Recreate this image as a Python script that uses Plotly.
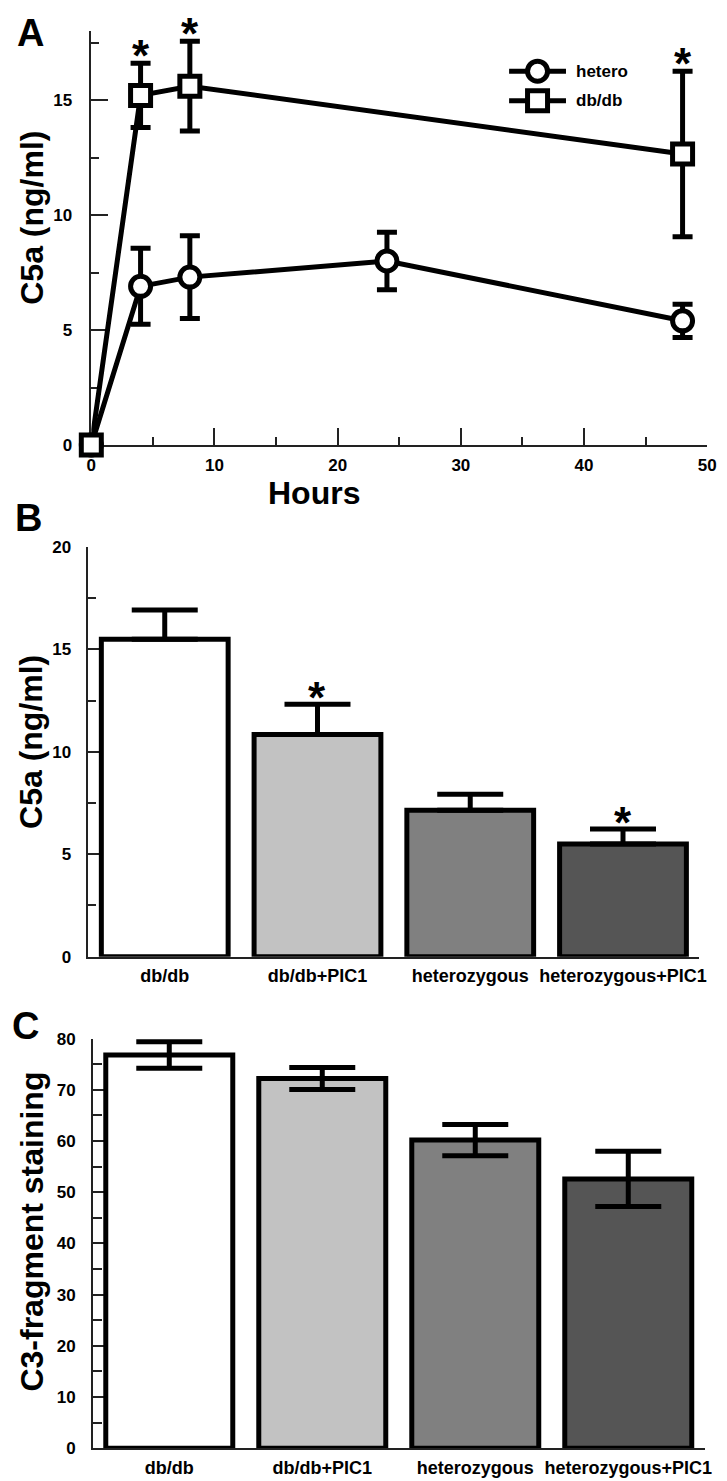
import plotly.graph_objects as go

# ---------------- data ----------------
# Panel A: C5a time course
hours_hetero = [0, 4, 8, 24, 48]
c5a_hetero = [0, 6.9, 7.3, 8.0, 5.4]
err_hetero = [None, 1.65, 1.8, 1.25, 0.72]

hours_dbdb = [0, 4, 8, 48]
c5a_dbdb = [0, 15.2, 15.6, 12.65]
err_dbdb = [None, 1.4, 1.95, 3.6]
sig_dbdb = [False, True, True, True]

# Panel B: C5a by group
groups = ["db/db", "db/db+PIC1", "heterozygous", "heterozygous+PIC1"]
c5a_b = [15.5, 10.85, 7.15, 5.5]
err_b = [1.42, 1.47, 0.78, 0.73]
sig_b = [False, True, False, True]

# Panel C: C3-fragment staining by group
c3_c = [76.8, 72.2, 60.2, 52.6]
err_c = [2.6, 2.15, 3.05, 5.4]

bar_colors = ["#ffffff", "#c2c2c2", "#808080", "#555555"]

# ---------------- layout helpers ----------------
W, H = 727, 1481
FONT = "Liberation Sans, Arial, sans-serif"


def px(x):
    return x / W


def py(y):
    return 1 - y / H


fig = go.Figure()

# ---- Panel A ----
fig.add_trace(go.Scatter(
    x=hours_hetero, y=c5a_hetero, mode="markers",
    marker=dict(size=1, color="rgba(0,0,0,0)"),
    error_y=dict(type="data", array=err_hetero, visible=True, color="black",
                 thickness=5, width=10),
    showlegend=False, xaxis="x", yaxis="y", cliponaxis=False, hoverinfo="skip"))
fig.add_trace(go.Scatter(
    x=hours_dbdb, y=c5a_dbdb, mode="markers",
    marker=dict(size=1, color="rgba(0,0,0,0)"),
    error_y=dict(type="data", array=err_dbdb, visible=True, color="black",
                 thickness=5, width=10),
    showlegend=False, xaxis="x", yaxis="y", cliponaxis=False, hoverinfo="skip"))
fig.add_trace(go.Scatter(
    x=hours_hetero, y=c5a_hetero, mode="lines+markers", name="hetero",
    line=dict(color="black", width=5),
    marker=dict(symbol="circle", size=20, color="white", line=dict(color="black", width=5)),
    showlegend=False, xaxis="x", yaxis="y", cliponaxis=False))
fig.add_trace(go.Scatter(
    x=hours_dbdb, y=c5a_dbdb, mode="lines+markers", name="db/db",
    line=dict(color="black", width=5),
    marker=dict(symbol="square", size=20, color="white", line=dict(color="black", width=5)),
    showlegend=False, xaxis="x", yaxis="y", cliponaxis=False))

# ---- Panel B ----
fig.add_trace(go.Bar(
    x=list(range(len(groups))), y=c5a_b, width=0.83,
    marker=dict(color=bar_colors, line=dict(color="black", width=5)),
    error_y=dict(type="data", symmetric=False, array=err_b, arrayminus=[0] * len(err_b),
                 color="black", thickness=5, width=33),
    showlegend=False, xaxis="x2", yaxis="y2", cliponaxis=False))

# ---- Panel C ----
fig.add_trace(go.Bar(
    x=list(range(len(groups))), y=c3_c, width=0.83,
    marker=dict(color=bar_colors, line=dict(color="black", width=5)),
    error_y=dict(type="data", array=err_c, color="black", thickness=5, width=33),
    showlegend=False, xaxis="x3", yaxis="y3", cliponaxis=False))

axis_common = dict(showgrid=False, zeroline=False, showline=True, linecolor="#222",
                   linewidth=1.5, ticks="inside", tickcolor="#222", tickwidth=1.5,
                   tickfont=dict(family=FONT, size=17, color="black", weight="bold"))
cat_axis = {k: v for k, v in axis_common.items() if k not in ("ticks", "tickfont")}
cat_font = dict(family=FONT, size=18, color="black", weight="bold")

fig.update_layout(
    width=W, height=H, margin=dict(l=0, r=0, t=0, b=0),
    paper_bgcolor="white", plot_bgcolor="rgba(0,0,0,0)",
    showlegend=False,
    xaxis=dict(domain=[px(88), px(716)], range=[0, 50], dtick=10, tick0=0,
               anchor="y", ticklen=17, ticklabelstandoff=4,
               minor=dict(dtick=5, ticks="inside", ticklen=8, tickwidth=1.5, tickcolor="#222"),
               layer="below traces", **axis_common),
    yaxis=dict(domain=[py(441.7), py(22.3)], range=[0, 18], tickvals=[0, 5, 10, 15],
               anchor="x", ticklen=17, ticklabelstandoff=14,
               minor=dict(dtick=2.5, ticks="inside", ticklen=8, tickwidth=1.5, tickcolor="#222"),
               layer="below traces", **axis_common),
    xaxis2=dict(domain=[px(85), px(708)], range=[-0.5, 3.5], tickvals=list(range(len(groups))),
                ticktext=groups, anchor="y2", ticks="", ticklabelstandoff=2,
                tickfont=cat_font, **cat_axis),
    yaxis2=dict(domain=[py(960), py(545)], range=[0, 20], dtick=5, tick0=0,
                anchor="x2", ticklen=15, ticklabelstandoff=12,
                minor=dict(dtick=2.5, ticks="inside", ticklen=8, tickwidth=1.5, tickcolor="#222"),
                layer="below traces", **axis_common),
    xaxis3=dict(domain=[px(89.5), px(713.5)], range=[-0.5, 3.5], tickvals=list(range(len(groups))),
                ticktext=groups, anchor="y3", ticks="", ticklabelstandoff=2,
                tickfont=cat_font, **cat_axis),
    yaxis3=dict(domain=[py(1458), py(1043)], range=[0, 80], dtick=10, tick0=0,
                anchor="x3", ticklen=16, ticklabelstandoff=12,
                minor=dict(dtick=5, ticks="inside", ticklen=9, tickwidth=1.5, tickcolor="#222"),
                layer="below traces", **axis_common),
)

annotations = []
title_font = dict(family=FONT, size=32, color="black", weight="bold")
panel_font = dict(family=FONT, size=38, color="black", weight="bold")


def paper_text(text, x, y, font, angle=0, xanchor="center"):
    return dict(text=text, x=px(x), y=py(y), xref="paper", yref="paper", showarrow=False,
                font=font, textangle=angle, xanchor=xanchor, yanchor="middle")


# panel letters
for letter, (lx, ly) in zip(["A", "B", "C"], [(26, 24), (24, 516), (21, 1030)]):
    annotations.append(paper_text(letter, lx, ly, panel_font))

# axis titles
annotations.append(paper_text("C5a (ng/ml)", 28, 211, title_font, -90))
annotations.append(paper_text("Hours", 315, 490, title_font))
annotations.append(paper_text("C5a (ng/ml)", 27, 742, title_font, -90))
annotations.append(paper_text("C3-fragment staining", 28, 1238, title_font, -90))

# significance asterisks
star_font = dict(family=FONT, size=44, color="black", weight="bold")
for hx, v, e, s in zip(hours_dbdb, c5a_dbdb, err_dbdb, sig_dbdb):
    if s:
        annotations.append(dict(text="*", x=hx, y=v + e, xref="x", yref="y", showarrow=False,
                                font=star_font, xanchor="center", yanchor="bottom", yshift=-19))
for i, (v, e, s) in enumerate(zip(c5a_b, err_b, sig_b)):
    if s:
        annotations.append(dict(text="*", x=i, y=v + e, xref="x2", yref="y2", showarrow=False,
                                font=star_font, xanchor="center", yanchor="bottom", yshift=-20))

# legend for panel A (layout decoration)
leg_font = dict(family=FONT, size=17, color="black", weight="bold")
for name, ly in [("hetero", 63), ("db/db", 93)]:
    annotations.append(paper_text(name, 580, ly, leg_font, xanchor="left"))

shapes = []
for ly, sym in [(63, "circle"), (93, "rect")]:
    shapes.append(dict(type="line", xref="paper", yref="paper", x0=px(514), x1=px(572),
                       y0=py(ly), y1=py(ly), line=dict(color="black", width=5)))
    shapes.append(dict(type=sym, xref="paper", yref="paper", xsizemode="pixel", ysizemode="pixel",
                       xanchor=px(543), yanchor=py(ly), x0=-10, x1=10, y0=-10, y1=10,
                       fillcolor="white", line=dict(color="black", width=5)))

fig.update_layout(annotations=annotations, shapes=shapes)

fig.write_html("out.html", config={"displayModeBar": False},
               post_script="document.body.style.margin='0px';document.body.style.overflow='hidden';")
